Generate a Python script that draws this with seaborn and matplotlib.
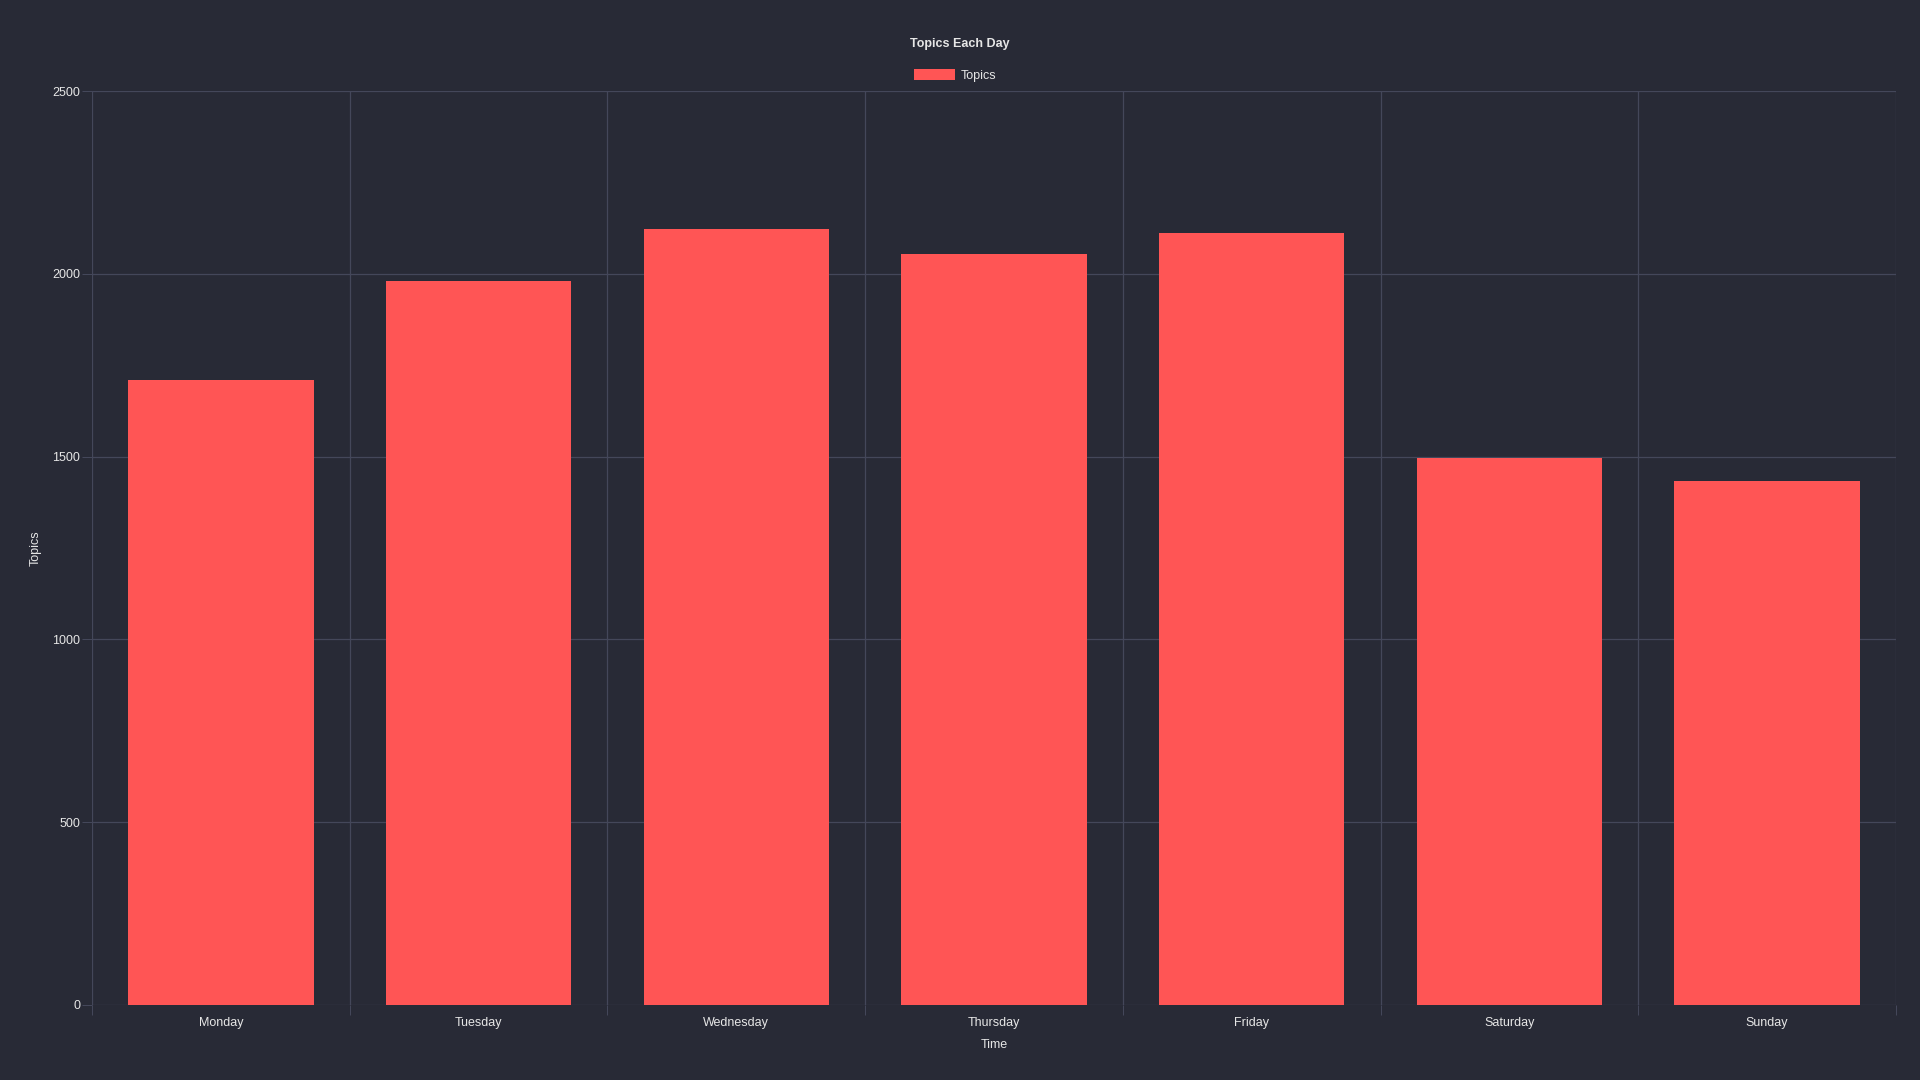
import numpy as np
import pandas as pd
import matplotlib
matplotlib.use("Agg")
import matplotlib.pyplot as plt
import seaborn as sns

# data
days = ["Monday", "Tuesday", "Wednesday", "Thursday", "Friday", "Saturday", "Sunday"]
topics = [1710, 1980, 2122, 2056, 2112, 1497, 1434]
y_ticks = [0, 500, 1000, 1500, 2000, 2500]

bg = "#282a36"
grid_col = "#44475a"
bar_col = "#ff5555"
text_col = "#e6e6e6"

sns.set_theme(style="dark")
plt.rcParams["font.family"] = ["Liberation Sans", "DejaVu Sans"]

df = pd.DataFrame({"day": days, "topics": topics})

fig = plt.figure(figsize=(19.2, 10.8), dpi=100, facecolor=bg)
ax = fig.add_axes([92 / 1920, 1 - 1004.7 / 1080, 1804 / 1920, 913.4 / 1080])
ax.set_facecolor(bg)

sns.barplot(data=df, x="day", y="topics", color=bar_col, saturation=1,
            width=0.72, label="Topics", ax=ax, zorder=3, linewidth=0,
            edgecolor=bar_col)
if ax.get_legend() is not None:
    ax.get_legend().remove()

ax.set_xlim(-0.5, len(days) - 0.5)
ax.set_ylim(0, 2500)
ax.set_yticks(y_ticks)
ax.set_yticklabels([str(v) for v in y_ticks])

# category boundaries carry the vertical grid lines, labels sit in the middle
ax.set_xticks(np.arange(len(days)))
ax.set_xticklabels(days)
ax.set_xticks(np.arange(len(days) + 1) - 0.5, minor=True)

ax.grid(False)
ax.grid(axis="y", which="major", color=grid_col, linewidth=0.9, zorder=0)
ax.grid(axis="x", which="minor", color=grid_col, linewidth=0.9, zorder=0)

ax.tick_params(axis="x", which="major", length=0, pad=9, labelsize=9, labelcolor=text_col)
ax.tick_params(axis="x", which="minor", length=7.5, width=0.75, color=grid_col, bottom=True)
ax.tick_params(axis="y", which="major", length=7.5, width=0.75, color=grid_col, pad=1,
               labelsize=9, labelcolor=text_col, left=True)

for s in ax.spines.values():
    s.set_visible(False)

ax.set_xlabel("Time", fontsize=9, color=text_col)
ax.set_ylabel("Topics", fontsize=9, color=text_col)
ax.xaxis.set_label_coords(0.5, -(1038.5 - 1004.7) / 913.4)
ax.yaxis.set_label_coords(-(92 - 42) / 1804, 0.5)

fig.text(0.5, 1 - 43.5 / 1080, "Topics Each Day", ha="center", va="center",
         fontsize=9, fontweight="bold", color=text_col)

handles, labels = ax.get_legend_handles_labels()
fig.legend(handles, labels, loc="center", bbox_to_anchor=(0.5 - 5 / 1920, 1 - 75.5 / 1080),
           frameon=False, fontsize=9, handlelength=3.3, handleheight=1.0,
           handletextpad=0.4, labelcolor=text_col)

fig.savefig("out.png", dpi=100, facecolor=bg)
